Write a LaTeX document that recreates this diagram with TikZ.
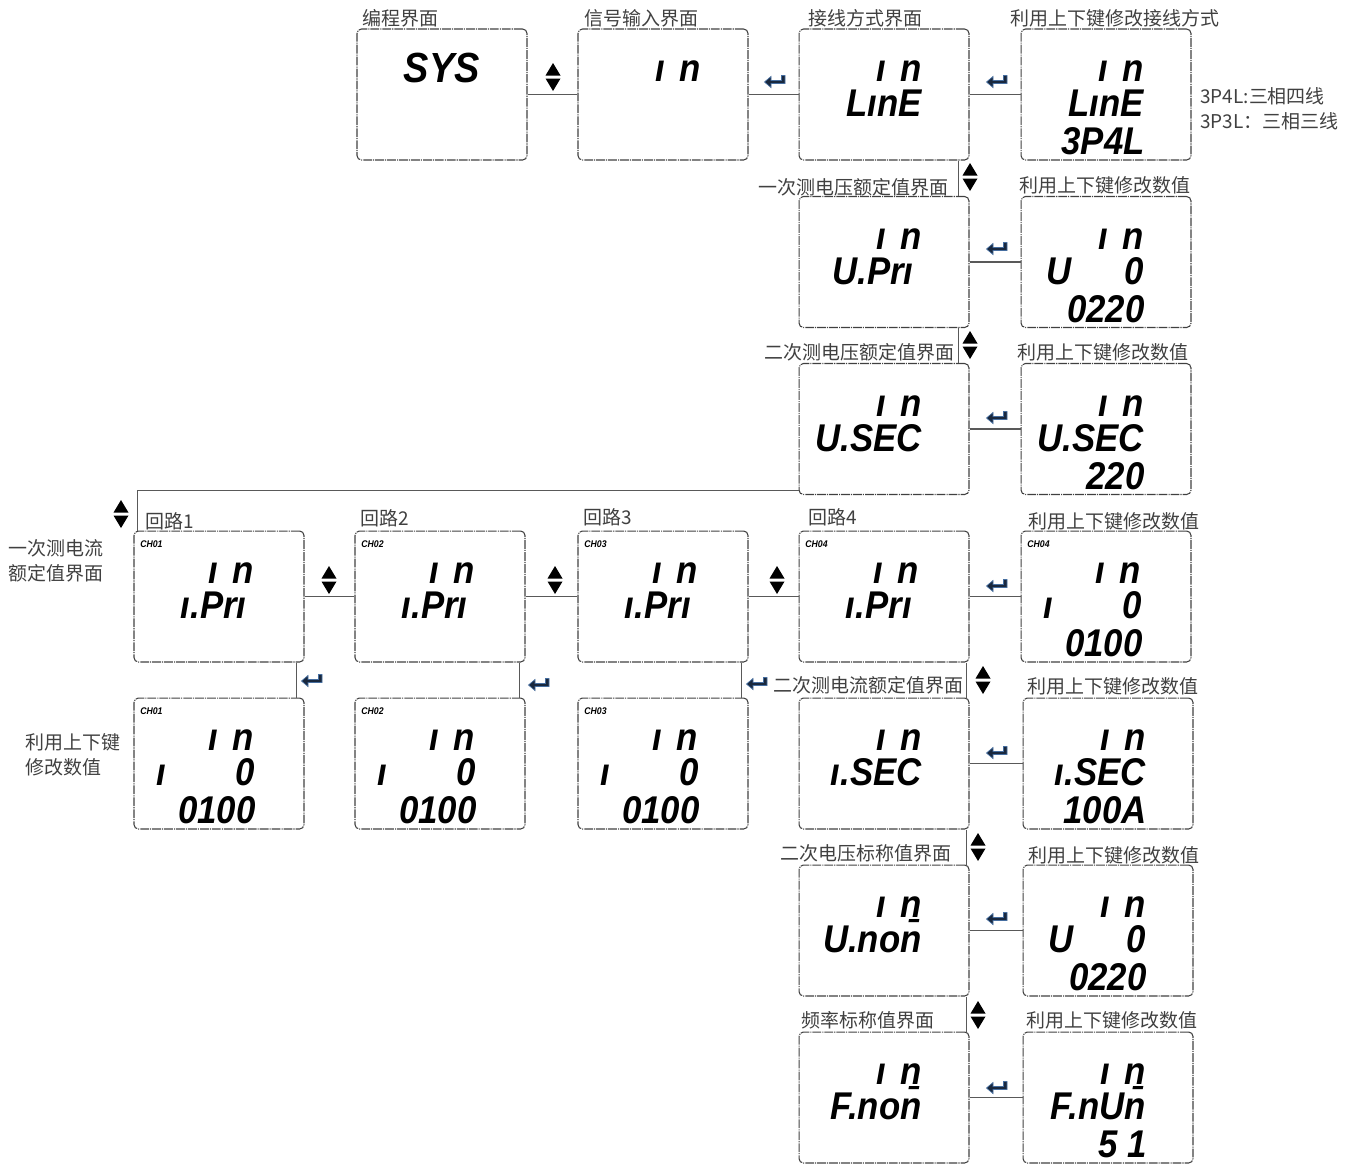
\documentclass[tikz,border=0pt]{standalone}
\usepackage{fontspec}
\newfontfamily\cjkfont{Noto Sans CJK SC}
\newfontfamily\lcdfont{Liberation Sans}[FakeStretch=0.9]
\usetikzlibrary{calc}
\newcommand\inmark{ı\hspace{8pt}n}
\definecolor{keyfill}{RGB}{25,40,62}
\definecolor{keyedge}{RGB}{70,110,160}

\begin{document}
\begin{tikzpicture}[x=0.02cm, y=-0.02cm,
		screen/.style={draw=black!75, line width=0.6pt, dash pattern=on 5pt off 0.6pt on 0.6pt off 0.6pt, rounded corners=2.5pt, minimum width=3.4cm, minimum height=2.62cm, inner sep=0},
		seg/.style={font=\lcdfont\bfseries\itshape\fontsize{22}{22}\selectfont, inner sep=0, anchor=base east},
		segl/.style={seg, anchor=base west},
		chan/.style={font=\lcdfont\bfseries\itshape\fontsize{5.5}{5.5}\selectfont, inner sep=0, anchor=north west},
		tag/.style={font=\cjkfont\fontsize{10.8}{14.2}\selectfont, text=black!75, inner sep=0, anchor=west},
		link/.style={draw=black!65, line width=0.6pt},
		updown/.pic={
			\fill (-7.5,-1.5) -- (7.5,-1.5) -- (0,-14) -- cycle;
			\fill (-7.5,1.5) -- (7.5,1.5) -- (0,14) -- cycle;
		},
		enterkey/.pic={
			\filldraw[fill=keyfill, draw=keyedge, line width=0.4pt] (10,-5.5) -- (10,2.5) -- (-4,2.5) -- (-4,6.5) -- (-10.5,1) -- (-4,-4.5) -- (-4,-0.5) -- (6.5,-0.5) -- (6.5,-5.5) -- cycle;
		}]

		\useasboundingbox (0,0) rectangle (1351,1164);

		\node[screen] (sys) at (442,94.5) {};
		\node[screen] (input) at (663,94.5) {};
		\node[screen] (wiring) at (884,94.5) {};
		\node[screen] (wiringv) at (1106,94.5) {};
		\node[screen] (upri) at (884,262) {};
		\node[screen] (upriv) at (1106,262) {};
		\node[screen] (usec) at (884,429) {};
		\node[screen] (usecv) at (1106,429) {};
		\node[screen] (ipri1) at (219,596.5) {};
		\node[screen] (ipri2) at (440,596.5) {};
		\node[screen] (ipri3) at (663,596.5) {};
		\node[screen] (ipri4) at (884,596.5) {};
		\node[screen] (ipriv4) at (1106,596.5) {};
		\node[screen] (ipriv1) at (219,763.5) {};
		\node[screen] (ipriv2) at (440,763.5) {};
		\node[screen] (ipriv3) at (663,763.5) {};
		\node[screen] (isec) at (884,763.5) {};
		\node[screen] (isecv) at (1108,763.5) {};
		\node[screen] (unom) at (884,930.5) {};
		\node[screen] (unomv) at (1108,930.5) {};
		\node[screen] (fnom) at (884,1097.5) {};
		\node[screen] (fnomv) at (1108,1097.5) {};

		\node[seg, font=\lcdfont\bfseries\itshape\fontsize{24}{24}\selectfont] (sys-a) at (480,82) {SYS};
		\node[seg] (input-t) at (701,81) {\inmark};
		\node[seg] (wiring-t) at (922,81) {\inmark};
		\node[seg] (wiring-a) at (922,116) {LınE};
		\node[seg] (wiringv-t) at (1144,81) {\inmark};
		\node[seg] (wiringv-a) at (1144,116) {LınE};
		\node[seg] (wiringv-b) at (1145,154) {3P4L};
		\node[seg] (upri-t) at (922,249) {\inmark};
		\node[seg] (upri-a) at (914,284) {U.Prı};
		\node[seg] (upriv-t) at (1144,249) {\inmark};
		\node[segl] (upriv-l) at (1046,284) {U};
		\node[seg] (upriv-a) at (1144,284) {0};
		\node[seg] (upriv-b) at (1145,322) {0220};
		\node[seg] (usec-t) at (922,416) {\inmark};
		\node[seg] (usec-a) at (922,451) {U.SEC};
		\node[seg] (usecv-t) at (1144,416) {\inmark};
		\node[seg] (usecv-a) at (1144,451) {U.SEC};
		\node[seg] (usecv-b) at (1145,489) {220};

		\node[chan] (ipri1-c) at (140,540) {CH01};
		\node[seg] (ipri1-t) at (254,583) {\inmark};
		\node[seg] (ipri1-a) at (247,618) {ı.Prı};
		\node[chan] (ipri2-c) at (361,540) {CH02};
		\node[seg] (ipri2-t) at (475,583) {\inmark};
		\node[seg] (ipri2-a) at (468,618) {ı.Prı};
		\node[chan] (ipri3-c) at (584,540) {CH03};
		\node[seg] (ipri3-t) at (698,583) {\inmark};
		\node[seg] (ipri3-a) at (691,618) {ı.Prı};
		\node[chan] (ipri4-c) at (805,540) {CH04};
		\node[seg] (ipri4-t) at (919,583) {\inmark};
		\node[seg] (ipri4-a) at (912,618) {ı.Prı};
		\node[chan] (ipriv4-c) at (1027,540) {CH04};
		\node[seg] (ipriv4-t) at (1141,583) {\inmark};
		\node[segl] (ipriv4-l) at (1043,618) {ı};
		\node[seg] (ipriv4-a) at (1142,618) {0};
		\node[seg] (ipriv4-b) at (1143,656) {0100};

		\node[chan] (ipriv1-c) at (140,707) {CH01};
		\node[seg] (ipriv1-t) at (254,750) {\inmark};
		\node[segl] (ipriv1-l) at (156,785) {ı};
		\node[seg] (ipriv1-a) at (255,785) {0};
		\node[seg] (ipriv1-b) at (256,823) {0100};
		\node[chan] (ipriv2-c) at (361,707) {CH02};
		\node[seg] (ipriv2-t) at (475,750) {\inmark};
		\node[segl] (ipriv2-l) at (377,785) {ı};
		\node[seg] (ipriv2-a) at (476,785) {0};
		\node[seg] (ipriv2-b) at (477,823) {0100};
		\node[chan] (ipriv3-c) at (584,707) {CH03};
		\node[seg] (ipriv3-t) at (698,750) {\inmark};
		\node[segl] (ipriv3-l) at (600,785) {ı};
		\node[seg] (ipriv3-a) at (699,785) {0};
		\node[seg] (ipriv3-b) at (700,823) {0100};

		\node[seg] (isec-t) at (922,750) {\inmark};
		\node[seg] (isec-a) at (922,785) {ı.SEC};
		\node[seg] (isecv-t) at (1146,750) {\inmark};
		\node[seg] (isecv-a) at (1146,785) {ı.SEC};
		\node[seg] (isecv-b) at (1147,823) {100A};
		\node[seg] (unom-t) at (922,917) {\inmark};
		\node[seg] (unom-a) at (922,952) {U.no\=n};
		\node[seg] (unomv-t) at (1146,917) {\inmark};
		\node[segl] (unomv-l) at (1048,952) {U};
		\node[seg] (unomv-a) at (1146,952) {0};
		\node[seg] (unomv-b) at (1147,990) {0220};
		\node[seg] (fnom-t) at (922,1084) {\inmark};
		\node[seg] (fnom-a) at (922,1119) {F.no\=n};
		\node[seg] (fnomv-t) at (1146,1084) {\inmark};
		\node[seg] (fnomv-a) at (1146,1119) {F.nU\=n};
		\node[seg] (fnomv-b) at (1147,1157) {5 1};

		\node[tag] (sys-tag) at (362,18) {编程界面};
		\node[tag] (input-tag) at (584,18) {信号输入界面};
		\node[tag] (wiring-tag) at (808,18) {接线方式界面};
		\node[tag] (wiringv-tag) at (1010,18) {利用上下键修改接线方式};
		\node[tag] (p4l-tag) at (1200,96) {3P4L:三相四线};
		\node[tag] (p3l-tag) at (1200,121) {3P3L：三相三线};
		\node[tag, anchor=east] (upri-tag) at (949,187) {一次测电压额定值界面};
		\node[tag] (upriv-tag) at (1019,185) {利用上下键修改数值};
		\node[tag, anchor=east] (usec-tag) at (955,352) {二次测电压额定值界面};
		\node[tag] (usecv-tag) at (1017,352) {利用上下键修改数值};
		\node[tag, align=left] (ipri-tag) at (8,561) {一次测电流\\额定值界面};
		\node[tag] (ipri1-tag) at (145,521) {回路1};
		\node[tag] (ipri2-tag) at (360,518) {回路2};
		\node[tag] (ipri3-tag) at (583,517) {回路3};
		\node[tag] (ipri4-tag) at (808,517) {回路4};
		\node[tag] (ipriv4-tag) at (1028,521) {利用上下键修改数值};
		\node[tag, align=left] (ipriv-tag) at (25,755) {利用上下键\\修改数值};
		\node[tag] (isec-tag) at (773,685) {二次测电流额定值界面};
		\node[tag] (isecv-tag) at (1027,686) {利用上下键修改数值};
		\node[tag] (unom-tag) at (780,853) {二次电压标称值界面};
		\node[tag] (unomv-tag) at (1028,855) {利用上下键修改数值};
		\node[tag] (fnom-tag) at (801,1020) {频率标称值界面};
		\node[tag] (fnomv-tag) at (1026,1020) {利用上下键修改数值};

		\draw[link] (sys) -- (input);
		\draw[link] (input) -- (wiring);
		\draw[link] (wiring) -- (wiringv);
		\draw[link] ($(wiring.south east)+(-11,0)$) -- ($(upri.north east)+(-11,0)$);
		\draw[link] (upri) -- (upriv);
		\draw[link] ($(upri.south east)+(-11,0)$) -- ($(usec.north east)+(-11,0)$);
		\draw[link] (usec) -- (usecv);
		\draw[link] ($(usec.south west)+(0,-5)$) -| ($(ipri1.north west)+(4,0)$);
		\draw[link] (ipri1) -- (ipri2);
		\draw[link] (ipri2) -- (ipri3);
		\draw[link] (ipri3) -- (ipri4);
		\draw[link] (ipri4) -- (ipriv4);
		\draw[link] ($(ipri1.south east)+(-8,0)$) -- ($(ipriv1.north east)+(-8,0)$);
		\draw[link] ($(ipri2.south east)+(-6,0)$) -- ($(ipriv2.north east)+(-6,0)$);
		\draw[link] ($(ipri3.south east)+(-7,0)$) -- ($(ipriv3.north east)+(-7,0)$);
		\draw[link] ($(ipri4.south east)+(-3,0)$) -- ($(isec.north east)+(-3,0)$);
		\draw[link] (isec) -- (isecv);
		\draw[link] ($(isec.south east)+(-3,0)$) -- ($(unom.north east)+(-3,0)$);
		\draw[link] (unom) -- (unomv);
		\draw[link] ($(unom.south east)+(-3,0)$) -- ($(fnom.north east)+(-3,0)$);
		\draw[link] (fnom) -- (fnomv);

		\pic at (553,77) {updown};
		\pic at (775,81) {enterkey};
		\pic at (997,81) {enterkey};
		\pic at (970,177) {updown};
		\pic at (997,248) {enterkey};
		\pic at (970,345) {updown};
		\pic at (997,417) {enterkey};
		\pic at (121,514) {updown};
		\pic at (329,580) {updown};
		\pic at (555,580) {updown};
		\pic at (777,580) {updown};
		\pic at (997,585) {enterkey};
		\pic at (312,680) {enterkey};
		\pic at (539,684) {enterkey};
		\pic at (757,683) {enterkey};
		\pic at (983,680) {updown};
		\pic at (997,752) {enterkey};
		\pic at (978,847) {updown};
		\pic at (997,918) {enterkey};
		\pic at (978,1015) {updown};
		\pic at (997,1087) {enterkey};
	\end{tikzpicture}
\end{document}
